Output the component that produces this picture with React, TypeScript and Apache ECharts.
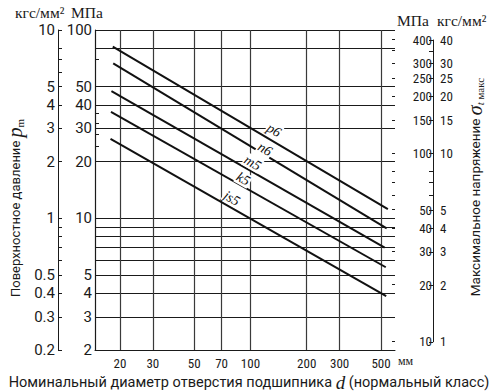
import React, { useEffect, useRef } from 'react';
import * as echarts from 'echarts';

// Axis tick / label values
const xTicks = [20, 30, 50, 70, 100, 200, 300, 500];
const leftMpaLabels = [100, 50, 40, 30, 20, 10, 5, 4, 3, 2];
const leftMpaGrid = [100, 80, 50, 40, 30, 20, 10, 9, 8, 7, 6, 5, 4, 3, 2];
const leftMpaMinor = [70, 36, 32, 28, 24];
const leftKgfLabels = [10, 5, 4, 3, 2, 1, 0.5, 0.4, 0.3, 0.2];
const leftKgfTicks = [10, 8, 7, 6, 5, 4, 3, 2, 1, 0.9, 0.8, 0.7, 0.6, 0.5, 0.4, 0.3, 0.2];
const rightMpaLabels = [400, 300, 250, 200, 150, 100, 50, 40, 30, 20, 10];
const rightMpaTicks = [400, 350, 300, 250, 200, 150, 100, 80, 70, 60, 50, 40, 30, 20, 10];
const rightKgfLabels = [40, 30, 25, 20, 15, 10, 5, 4, 3, 2, 1];
const edgeTicks = [400, 350, 300, 250, 200, 150, 100, 80, 70, 60, 50, 40, 30, 20, 10];

// Fit lines (d in mm, p in MPa)
const fits = ['p6', 'n6', 'm5', 'k5', 'js5'];
const dStart = [18.3, 18.4, 18.0, 17.9, 17.8];
const dEnd = [544, 536, 523, 530, 533];
const pStart = [81.5, 66.5, 47.4, 36.8, 26.4];
const pEnd = [11.2, 8.85, 7.0, 5.5, 3.86];
// label anchor positions (data space)
const labelD = [133.6, 119.5, 102.7, 91.5, 79.3];
const labelP = [29.4, 23.3, 19.7, 16.2, 12.8];

const INK = '#1a1a1a';
const SANS = "Roboto, 'Noto Sans', sans-serif";
const NARROW = "'Liberation Sans Narrow', 'Roboto Condensed', Roboto, sans-serif";
const SERIF = "'Liberation Serif', 'DejaVu Serif', serif";

export default function App() {
  const ref = useRef<HTMLDivElement>(null);
  useEffect(() => {
    const chart = echarts.init(ref.current!, null, { renderer: 'svg' });
    const hiddenLine = { show: false };
    const option: any = {
      animation: false,
      backgroundColor: '#fff',
      textStyle: { fontFamily: SANS, color: INK },
      grid: [
        { left: 95, top: 30, width: 300, height: 320, outerBoundsMode: 'none' },
        { left: 433, top: 40, width: 1, height: 301.8, outerBoundsMode: 'none' },
      ],
      xAxis: [
        {
          gridIndex: 0, type: 'log', logBase: 10, min: 14.7, max: 594, position: 'bottom',
          axisLine: { show: true, onZero: false, lineStyle: { color: INK, width: 1 } },
          axisTick: { show: false, customValues: xTicks },
          splitLine: { show: true, lineStyle: { color: '#3a3a3a', width: 1.2 } },
          minorSplitLine: { show: false },
          axisLabel: { customValues: xTicks, margin: 7, fontSize: 13, fontFamily: NARROW, color: INK },
        },
        { gridIndex: 1, type: 'value', show: false, min: 0, max: 1 },
      ],
      yAxis: [
        {
          gridIndex: 0, type: 'log', logBase: 10, min: 2, max: 100, position: 'left',
          axisLine: { show: true, onZero: false, lineStyle: { color: INK, width: 1.2 } },
          axisTick: { show: false, customValues: leftMpaGrid },
          splitLine: { show: true, lineStyle: { color: INK, width: 1 } },
          axisLabel: { customValues: leftMpaLabels, margin: 3, fontSize: 15, fontFamily: SANS, color: INK },
        },
        {
          gridIndex: 0, type: 'log', logBase: 10, min: 2, max: 100, position: 'left', offset: 0,
          axisLine: hiddenLine,
          axisTick: { show: true, inside: true, length: 4, customValues: leftMpaMinor, lineStyle: { color: INK } },
          splitLine: { show: false },
          axisLabel: { show: false },
        },
        {
          gridIndex: 0, type: 'log', logBase: 10, min: 0.2, max: 10, position: 'left', offset: 37,
          axisLine: { show: true, onZero: false, lineStyle: { color: INK, width: 1 } },
          axisTick: { show: true, inside: true, length: 4, customValues: leftKgfTicks, lineStyle: { color: INK } },
          splitLine: { show: false },
          axisLabel: { customValues: leftKgfLabels, margin: 3, fontSize: 15, fontFamily: SANS, color: INK },
        },
        {
          gridIndex: 0, type: 'log', logBase: 10, min: 9, max: 450, position: 'right', offset: 0,
          axisLine: hiddenLine,
          axisTick: { show: true, inside: true, length: 3, customValues: edgeTicks, lineStyle: { color: INK } },
          splitLine: { show: false },
          axisLabel: { show: false },
        },
        {
          gridIndex: 1, type: 'log', logBase: 10, min: 10, max: 400, position: 'left',
          axisLine: { show: true, onZero: false, lineStyle: { color: INK, width: 1 } },
          axisTick: { show: true, inside: false, length: 4, customValues: rightMpaTicks, lineStyle: { color: INK } },
          splitLine: { show: false },
          axisLabel: { customValues: rightMpaLabels, margin: 1, fontSize: 13, fontFamily: NARROW, color: INK },
        },
        {
          gridIndex: 1, type: 'log', logBase: 10, min: 1, max: 40, position: 'right',
          axisLine: hiddenLine,
          axisTick: { show: false },
          splitLine: { show: false },
          axisLabel: { customValues: rightKgfLabels, margin: 6, fontSize: 13, fontFamily: NARROW, color: INK },
        },
      ],
      series: fits.map((name, i) => ({
        type: 'line',
        name,
        xAxisIndex: 0,
        yAxisIndex: 0,
        data: [[dStart[i], pStart[i]], [dEnd[i], pEnd[i]]],
        symbol: 'none',
        showSymbol: false,
        silent: true,
        lineStyle: { color: '#111', width: 2 },
        markPoint: {
          symbol: 'circle',
          symbolSize: 1,
          silent: true,
          itemStyle: { color: 'rgba(0,0,0,0)' },
          data: [{ coord: [labelD[i], labelP[i]], value: name }],
          label: {
            show: true, position: 'inside', formatter: name, rotate: -30,
            fontFamily: SERIF, fontStyle: 'italic', fontSize: 14, color: '#111',
            backgroundColor: '#fff', padding: [0, 1],
          },
        },
      })),
      graphic: [
        { type: 'text', left: 15, top: 4, style: { text: 'кгс/мм²', fontFamily: SERIF, fontSize: 15.5, fill: INK } },
        { type: 'text', left: 71, top: 4, style: { text: 'МПа', fontFamily: SERIF, fontSize: 15.5, fill: INK } },
        { type: 'text', left: 397, top: 12, style: { text: 'МПа', fontFamily: SERIF, fontSize: 15.5, fill: INK } },
        { type: 'text', left: 437, top: 12, style: { text: 'кгс/мм²', fontFamily: SERIF, fontSize: 15.5, fill: INK } },
        { type: 'text', left: 398, top: 355, style: { text: 'мм', fontFamily: SERIF, fontSize: 12, fill: INK } },
        {
          type: 'text', x: 15, y: 208, rotation: Math.PI / 2,
          style: {
            text: '{t|Поверхностное давление }{p|p}{s|m}',
            align: 'center', verticalAlign: 'middle', fill: INK,
            rich: {
              t: { fontFamily: SANS, fontSize: 13, fill: INK },
              p: { fontFamily: SERIF, fontStyle: 'italic', fontSize: 20, fill: INK },
              s: { fontFamily: SERIF, fontSize: 11, fill: INK, verticalAlign: 'bottom' },
            },
          },
        },
        {
          type: 'text', x: 475, y: 187, rotation: Math.PI / 2,
          style: {
            text: '{t|Максимальное напряжение }{p|σ}{s|t}{m| макс}',
            align: 'center', verticalAlign: 'middle', fill: INK,
            rich: {
              t: { fontFamily: SANS, fontSize: 13.5, fill: INK },
              p: { fontFamily: SERIF, fontStyle: 'italic', fontSize: 20, fill: INK },
              s: { fontFamily: SERIF, fontStyle: 'italic', fontSize: 11, fill: INK, verticalAlign: 'bottom' },
              m: { fontFamily: SERIF, fontSize: 11, fill: INK, verticalAlign: 'bottom' },
            },
          },
        },
        {
          type: 'text', x: 249, y: 382,
          style: {
            text: '{t|Номинальный диаметр отверстия подшипника }{d|d}{t| (нормальный класс)}',
            align: 'center', verticalAlign: 'middle', fill: INK,
            rich: {
              t: { fontFamily: SANS, fontSize: 14.5, fill: INK },
              d: { fontFamily: SERIF, fontStyle: 'italic', fontSize: 19, fill: INK },
            },
          },
        },
      ],
    };
    chart.setOption(option);
    return () => chart.dispose();
  }, []);
  return (
    <div
      ref={ref}
      style={{ position: 'absolute', left: 0, top: 0, width: 497, height: 392, background: '#fff' }}
    />
  );
}
